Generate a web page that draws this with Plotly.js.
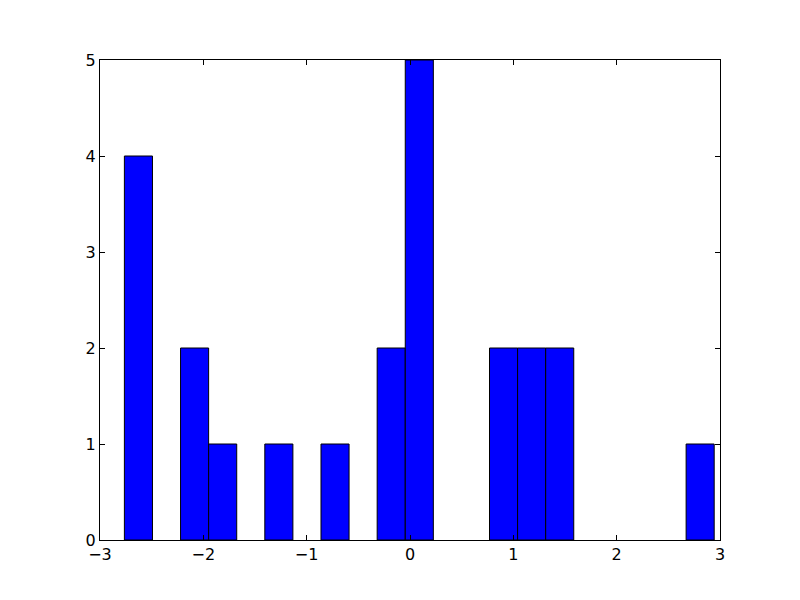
<!DOCTYPE html>
<html>
<head>
<meta charset="utf-8">
<script src="https://cdn.plot.ly/plotly-3.0.1.min.js"></script>
<style>html,body{margin:0;padding:0;background:#fff;}</style>
</head>
<body>
<div id="chart" style="width:800px;height:600px;"></div>
<script>
// Histogram: 21 equal-width bins
var binStart = -2.764;
var binWidth = 0.2718;
var counts = [4, 0, 2, 1, 0, 1, 0, 1, 0, 2, 5, 0, 0, 2, 2, 2, 0, 0, 0, 0, 1];
var xTicks = [-3, -2, -1, 0, 1, 2, 3];
var xTickText = ['\u22123', '\u22122', '\u22121', '0', '1', '2', '3'];
var yTicks = [0, 1, 2, 3, 4, 5];

var centers = counts.map(function (_, i) { return binStart + binWidth * (i + 0.5); });
var widths = counts.map(function () { return binWidth; });
var edgeWidths = counts.map(function (c) { return c > 0 ? 1 : 0; });

var trace = {
  type: 'bar',
  x: centers,
  y: counts,
  width: widths,
  marker: { color: '#0000ff', line: { color: '#000000', width: edgeWidths } },
  hoverinfo: 'x+y'
};

var axisCommon = {
  showline: true,
  linecolor: '#000',
  linewidth: 1,
  mirror: 'allticks',
  ticks: 'inside',
  ticklen: 5,
  tickwidth: 1,
  tickcolor: '#000',
  showgrid: false,
  zeroline: false,
  tickfont: { family: 'DejaVu Sans', size: 16, color: '#000' }
};

var layout = {
  width: 800,
  height: 600,
  margin: { l: 100, r: 80, t: 60, b: 60 },
  paper_bgcolor: '#fff',
  plot_bgcolor: '#fff',
  showlegend: false,
  bargap: 0,
  xaxis: Object.assign({}, axisCommon, {
    range: [-3, 3],
    tickmode: 'array',
    tickvals: xTicks,
    ticktext: xTickText
  }),
  yaxis: Object.assign({}, axisCommon, {
    range: [0, 5],
    tickmode: 'array',
    tickvals: yTicks
  })
};

Plotly.newPlot('chart', [trace], layout, { displayModeBar: false, staticPlot: true });
</script>
</body>
</html>
